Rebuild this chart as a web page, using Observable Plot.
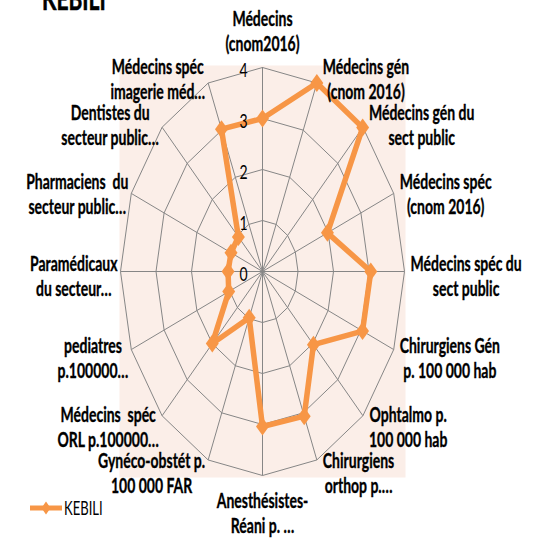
<!DOCTYPE html>
<html><head><meta charset="utf-8">
<script src="https://cdn.jsdelivr.net/npm/d3@7"></script>
<script src="https://cdn.jsdelivr.net/npm/@observablehq/plot@0.6"></script>
<style>
body{margin:0;background:#fff;overflow:hidden;}
#wrap{position:relative;width:547px;height:538px;overflow:hidden;}
#chart{position:absolute;left:0;top:0;}
#title{position:absolute;left:42px;top:-20px;font:bold 30px Lato;line-height:normal;transform:scaleX(0.7);transform-origin:left top;color:#000;white-space:nowrap;-webkit-text-stroke:0.6px #000;}
#legend{position:absolute;left:28px;top:496px;display:flex;align-items:center;}
#legend span{font:18.67px Lato;display:inline-block;transform:scaleX(0.7);transform-origin:left center;color:#000;}
</style></head>
<body>
<div id="wrap"><div id="chart"></div><div id="title"></div><div id="legend"></div></div>
<script>
const titleText = "KEBILI";
const seriesName = "KEBILI";
const categories = [
  "Médecins\n(cnom2016)",
  "Médecins gén\n(cnom 2016)",
  "Médecins gén du\nsect public",
  "Médecins spéc\n(cnom 2016)",
  "Médecins spéc du\nsect public",
  "Chirurgiens Gén\np. 100 000 hab",
  "Ophtalmo p.\n100 000 hab",
  "Chirurgiens\northop p.…",
  "Anesthésistes-\nRéani p. …",
  "Gynéco-obstét p.\n100 000 FAR",
  "Médecins  spéc\nORL p.100000…",
  "pediatres\np.100000…",
  "Paramédicaux\ndu secteur…",
  "Pharmaciens  du\nsecteur public…",
  "Dentistes du\nsecteur public…",
  "Médecins spéc\nimagerie méd…"
];
const values = [3.0, 4.0, 3.99, 1.98, 3.05, 3.05, 2.03, 3.07, 3.04, 0.98, 2.0, 1.03, 0.97, 0.96, 0.96, 3.02];
const ticks = [0, 1, 2, 3, 4];
const rings = [1, 2, 3, 4];

const ORANGE = "#F79646", GRID = "#868686", BG = "#FBEEE8";
const FS = 20, SQ = 0.7;
const N = categories.length;
const ang = i => 2 * Math.PI * i / N;
const maxV = d3.max(ticks);

const ringPts = rings.flatMap(r => d3.range(N + 1).map(i => ({r, x: r * Math.sin(ang(i % N)), y: r * Math.cos(ang(i % N))})));
const spokes = categories.map((c, i) => ({x: maxV * Math.sin(ang(i)), y: maxV * Math.cos(ang(i))}));
const pts = values.map((v, i) => ({v, x: v * Math.sin(ang(i)), y: v * Math.cos(ang(i))}));
const closed = [...pts, pts[0]];

const rhombus = {draw(ctx, size) {
  const hh = Math.sqrt(size / Math.PI), hw = hh * 0.72;
  ctx.moveTo(0, -hh); ctx.lineTo(hw, 0); ctx.lineTo(0, hh); ctx.lineTo(-hw, 0); ctx.closePath();
}};

const cv = document.createElement("canvas").getContext("2d");
cv.font = `bold ${FS}px Lato`;
const labelMarks = categories.map((c, i) => {
  const s = Math.sin(ang(i)), co = Math.cos(ang(i));
  const w = d3.max(c.split("\n"), l => cv.measureText(l).width) * SQ;
  let dx = 0, dy = 0;
  if (Math.abs(s) < 0.01) { dy = co > 0 ? -37 : 37; }
  else { dx = s > 0 ? 6 + w / 2 : -(3 + w / 2); dy = 4 - 9 * co; }
  return Plot.text([{x: spokes[i].x, y: spokes[i].y, label: c}], {
    x: "x", y: "y", text: "label", dx, dy, textAnchor: "middle", lineAnchor: "middle",
    lineHeight: 1.25, fontSize: FS, fontWeight: "bold", fontFamily: "Lato", fill: "#000",
    stroke: "#000", strokeWidth: 0.35
  });
});

const chart = Plot.plot({
  width: 547, height: 538,
  marginLeft: 119, marginRight: 142, marginTop: 65, marginBottom: 61,
  style: {background: "transparent", overflow: "visible"},
  x: {domain: [-maxV, maxV], inset: 1, axis: null},
  y: {domain: [-maxV, maxV], insetTop: 2, insetBottom: 2, axis: null},
  marks: [
    Plot.frame({fill: BG, stroke: "none"}),
    Plot.line(ringPts, {x: "x", y: "y", z: "r", stroke: GRID, strokeWidth: 1}),
    Plot.link(spokes, {x1: 0, y1: 0, x2: "x", y2: "y", stroke: GRID, strokeWidth: 1}),
    Plot.line(closed, {x: "x", y: "y", stroke: ORANGE, strokeWidth: 5.5, strokeLinejoin: "round", curve: "linear"}),
    Plot.dot(pts, {x: "x", y: "y", symbol: rhombus, r: 9, fill: ORANGE, stroke: "none"}),
    Plot.text(ticks, {x: 0, y: d => d, text: d => String(d), textAnchor: "end", dx: -15, dy: 3, fontSize: FS, fontFamily: "Lato", fill: "#000"}),
    ...labelMarks
  ]
});
d3.select(chart).selectAll('g[aria-label="text"] text').attr("transform", function() {
  return (this.getAttribute("transform") || "") + ` scale(${SQ},1)`;
});
document.getElementById("chart").appendChild(chart);
document.getElementById("title").textContent = titleText;
document.getElementById("legend").innerHTML =
  `<svg width="36" height="24"><line x1="2" y1="12" x2="34" y2="12" stroke="${ORANGE}" stroke-width="5"/><path d="M18,5.5 L22.5,12 L18,18.5 L13.5,12Z" fill="${ORANGE}"/></svg><span></span>`;
document.querySelector("#legend span").textContent = seriesName;
</script>
</body></html>
